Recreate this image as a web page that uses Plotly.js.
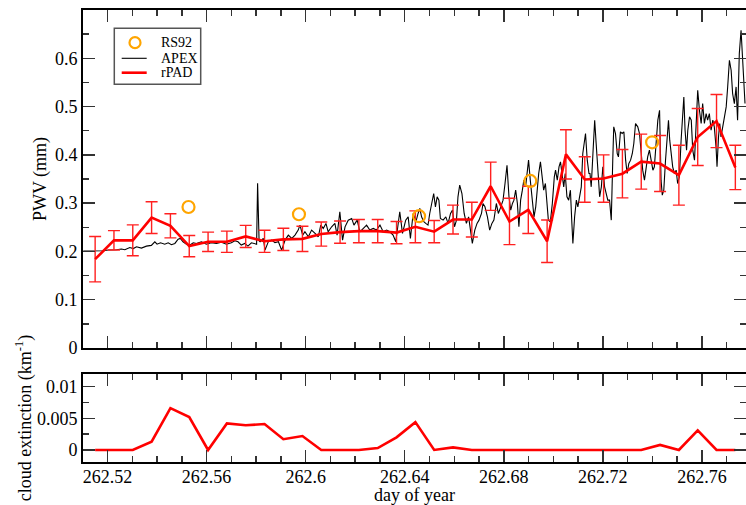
<!DOCTYPE html>
<html>
<head>
<meta charset="utf-8">
<script src="https://cdn.plot.ly/plotly-3.0.1.min.js"></script>
<style>html,body{margin:0;padding:0;background:#fff;}#chart{width:746px;height:505px;}</style>
</head>
<body>
<div id="chart"></div>
<script>
// rPAD retrievals (day of year, PWV mm, 1-sigma error)
const rpadDay = [262.5150,262.5226,262.5302,262.5378,262.5454,262.5530,262.5606,262.5682,262.5758,262.5834,
  262.5910,262.5987,262.6063,262.6139,262.6215,262.6291,262.6367,262.6443,262.6519,262.6595,
  262.6671,262.6747,262.6823,262.6899,262.6975,262.7051,262.7127,262.7203,262.7279,262.7355,
  262.7431,262.7507,262.7583,262.7659,262.7735];
const rpadPWV = [0.184,0.223,0.223,0.270,0.253,0.211,0.220,0.220,0.231,0.221,
  0.225,0.226,0.236,0.240,0.242,0.242,0.239,0.251,0.241,0.266,
  0.266,0.335,0.262,0.286,0.221,0.401,0.349,0.351,0.361,0.386,
  0.382,0.358,0.437,0.470,0.374];
const rpadErr = [0.047,0.020,0.032,0.033,0.025,0.022,0.020,0.022,0.023,0.023,
  0.023,0.026,0.025,0.023,0.024,0.024,0.023,0.033,0.023,0.030,
  0.036,0.050,0.048,0.049,0.044,0.051,0.047,0.049,0.050,0.057,
  0.058,0.062,0.059,0.055,0.046];
// cloud extinction (km^-1) at the rPAD times
const cloudExt = [0,0,0,0.0013,0.0066,0.0052,0,0.0042,0.0039,0.0041,
  0.0017,0.0022,0,0,0,0.0003,0.0020,0.0044,0,0.0004,
  0,0,0,0,0,0,0,0,0,0,
  0.0008,0,0.0031,0,0];
// RS92 radiosondes
const rs92Day = [262.5527,262.5973,262.6458,262.6907,262.7399];
const rs92PWV = [0.292,0.277,0.273,0.346,0.426];
// APEX radiometer
const apexDay = [262.5102,262.5130,262.5158,262.5183,262.5203,262.5223,262.5236,262.5256,262.5270,262.5290,
  262.5304,262.5317,262.5337,262.5357,262.5377,262.5391,262.5400,262.5414,262.5431,262.5445,
  262.5458,262.5472,262.5485,262.5494,262.5505,262.5519,262.5532,262.5546,262.5559,262.5579,
  262.5599,262.5619,262.5640,262.5660,262.5680,262.5700,262.5714,262.5727,262.5740,262.5754,
  262.5767,262.5781,
  262.5792,262.5802,262.5806,262.5812,262.5816,262.5829,262.5836,262.5849,262.5863,262.5876,
  262.5890,262.5903,262.5917,262.5930,262.5944,262.5957,262.5970,262.5977,262.5988,262.5997,
  262.6011,262.6024,262.6038,262.6051,262.6061,262.6071,262.6082,262.6091,262.6105,262.6118,
  262.6127,262.6138,262.6149,262.6159,262.6172,262.6186,262.6195,262.6208,262.6219,262.6232,
  262.6246,262.6259,262.6273,262.6286,262.6300,262.6313,262.6327,262.6340,262.6353,262.6364,
  262.6373,262.6380,262.6391,262.6404,262.6414,262.6423,262.6434,262.6445,262.6454,
  262.6461,262.6468,262.6477,262.6485,262.6494,262.6501,262.6512,262.6517,262.6524,262.6531,
  262.6538,262.6544,262.6555,262.6566,262.6575,262.6585,262.6593,262.6601,262.6609,262.6615,
  262.6622,262.6631,262.6640,262.6649,262.6658,262.6667,262.6673,262.6683,262.6692,262.6700,
  262.6710,262.6716,262.6724,262.6734,262.6743,262.6752,262.6760,262.6770,262.6778,262.6788,
  262.6797,262.6805,262.6813,262.6821,262.6828,262.6835,262.6841,262.6848,262.6855,262.6861,
  262.6868,262.6875,262.6881,262.6888,262.6894,262.6900,262.6907,262.6914,262.6922,262.6929,
  262.6934,262.6941,262.6948,262.6954,262.6961,262.6968,262.6973,262.6980,262.6988,262.6996,
  262.7004,262.7009,262.7016,262.7023,262.7029,262.7036,262.7042,262.7048,262.7055,262.7062,
  262.7069,262.7075,262.7079,262.7086,262.7093,262.7099,262.7106,262.7113,262.7119,262.7126,
  262.7130,262.7137,262.7144,
  262.7148,262.7153,262.7160,262.7167,262.7173,262.7180,262.7187,262.7194,262.7200,262.7207,
  262.7214,262.7220,262.7227,262.7234,262.7240,262.7244,262.7251,262.7258,262.7263,262.7271,
  262.7278,262.7285,262.7292,262.7298,262.7305,262.7312,262.7319,262.7325,262.7332,262.7341,
  262.7348,262.7355,262.7361,262.7368,262.7375,262.7381,262.7388,262.7395,262.7402,262.7408,
  262.7415,262.7422,262.7429,262.7435,262.7440,262.7446,262.7453,262.7460,262.7465,262.7470,
  262.7476,262.7482,262.7489,262.7496,262.7502,262.7509,262.7516,262.7523,262.7527,262.7532,
  262.7538,262.7543,262.7550,262.7557,262.7563,262.7570,262.7577,262.7583,262.7590,262.7597,
  262.7603,262.7610,262.7617,262.7623,262.7630,262.7637,262.7644,262.7650,262.7657,262.7661,
  262.7667,262.7672,262.7677,262.7684,262.7691,262.7698,262.7704,262.7711,262.7718,262.7724,
  262.7731,262.7738,262.7744,262.7751,262.7758,262.7762,262.7767,262.7774];
const apexPWV = [0.201,0.201,0.2015,0.2015,0.203,0.203,0.2035,0.205,0.2035,0.208,
  0.206,0.2097,0.207,0.211,0.2125,0.220,0.215,0.218,0.215,0.218,
  0.214,0.2166,0.2255,0.227,0.220,0.215,0.213,0.218,0.2166,0.220,
  0.215,0.218,0.2166,0.219,0.215,0.218,0.222,0.220,0.2131,0.2166,
  0.211,0.218,
  0.2166,0.215,0.341,0.222,0.220,0.2269,0.2028,0.220,0.2235,0.218,
  0.220,0.2028,0.2235,0.2338,0.2269,0.2338,0.2442,0.2545,0.2338,0.2407,
  0.2304,0.2442,0.2373,0.2304,0.2545,0.2476,0.2580,0.2407,0.2510,0.2580,
  0.2338,0.2821,0.2235,0.2510,0.2648,0.2683,0.2545,0.2648,0.2407,0.2476,
  0.2545,0.2442,0.2476,0.2442,0.2545,0.2407,0.2442,0.2407,0.2338,0.2200,
  0.2510,0.2821,0.2373,0.2648,0.2717,0.2269,0.2786,0.2614,0.2786,
  0.289,0.2717,0.2614,0.2580,0.2545,0.2786,0.3131,0.3200,0.2924,0.3131,
  0.3062,0.2683,0.2648,0.2717,0.2580,0.2786,0.2855,0.2510,0.2648,0.3131,
  0.3373,0.3200,0.2786,0.2580,0.2717,0.2373,0.2166,0.2442,0.2580,0.2648,
  0.2786,0.2993,0.2924,0.2717,0.2442,0.2580,0.2648,0.2993,0.2786,0.2924,
  0.3062,0.3407,0.3786,0.3131,0.2855,0.2993,0.3062,0.3269,0.2993,0.2510,
  0.3062,0.3269,0.3476,0.3338,0.3683,0.3890,0.3476,0.3131,0.2717,0.2924,
  0.3269,0.3614,0.3855,0.3545,0.3269,0.3407,0.3062,0.2648,0.2614,0.2993,
  0.3545,0.3683,0.3476,0.3752,0.3855,0.3545,0.3338,0.3614,0.3131,0.3062,
  0.3269,0.2580,0.2166,0.2717,0.3062,0.2924,0.3131,0.3338,0.4028,0.4373,
  0.4442,0.3890,0.3614,
  0.3614,0.3338,0.4028,0.4718,0.4235,0.3683,0.3131,0.3338,0.3752,0.3338,
  0.3200,0.3062,0.3062,0.2648,0.3890,0.4580,0.4442,0.4028,0.3959,0.4476,
  0.4442,0.4476,0.3890,0.3614,0.3821,0.3890,0.4028,0.4235,0.4649,0.4580,
  0.4442,0.4028,0.3683,0.3476,0.3752,0.3959,0.4097,0.3890,0.3683,0.3752,
  0.4166,0.4718,0.4924,0.3476,0.3166,0.3269,0.3890,0.4511,0.4718,0.4304,
  0.3959,0.3752,0.3614,0.3683,0.3407,0.3545,0.4304,0.4924,0.5200,0.4511,
  0.4097,0.4511,0.4787,0.4718,0.4097,0.3890,0.4718,0.5338,0.4924,0.4649,
  0.5062,0.4649,0.4856,0.4718,0.4856,0.4511,0.4718,0.4580,0.4166,0.3752,
  0.4373,0.4649,0.4373,0.4580,0.4856,0.4993,0.5407,0.5959,0.5752,0.5269,
  0.5062,0.5407,0.4718,0.6097,0.6580,0.6166,0.5545,0.5062];
// tick labels
const xTicks = [262.52,262.56,262.60,262.64,262.68,262.72,262.76];
const xTickText = ['262.52','262.56','262.6','262.64','262.68','262.72','262.76'];
const pwvTicks = [0,0.1,0.2,0.3,0.4,0.5,0.6];
const pwvTickText = ['0','0.1','0.2','0.3','0.4','0.5','0.6'];
const extTicks = [0,0.005,0.01];
const extTickText = ['0','0.005','0.01'];
// legend entries
const legendNames = ['RS92', 'APEX', 'rPAD'];

const FONT = 'Liberation Serif, Times New Roman, serif';

const traces = [
  {x: apexDay, y: apexPWV, type: 'scatter', mode: 'lines', name: 'APEX', showlegend: false,
   xaxis: 'x2', yaxis: 'y2', line: {color: 'black', width: 1.1}},
  {x: rpadDay, y: rpadPWV, type: 'scatter', mode: 'lines', name: 'rPAD', showlegend: false,
   xaxis: 'x2', yaxis: 'y2', line: {color: '#ff0000', width: 2.6},
   error_y: {type: 'data', array: rpadErr, visible: true, color: '#ff2020', thickness: 1.4, width: 6}},
  {x: rs92Day, y: rs92PWV, type: 'scatter', mode: 'markers', name: 'RS92', showlegend: false,
   xaxis: 'x2', yaxis: 'y2',
   marker: {symbol: 'circle-open', size: 12, color: '#ffa500', line: {color: '#ffa500', width: 2.2}}},
  {x: rpadDay, y: cloudExt, type: 'scatter', mode: 'lines', name: 'cloud extinction',
   xaxis: 'x', yaxis: 'y', showlegend: false, line: {color: '#ff0000', width: 2.6}}
];

const axCommon = {
  showline: true, linecolor: 'black', linewidth: 2, mirror: 'allticks',
  ticks: 'inside', ticklen: 12, tickwidth: 1.5, tickcolor: '#333',
  showgrid: false, zeroline: false,
  tickfont: {family: FONT, size: 18, color: 'black'}
};

// legend box drawn in paper coordinates (plot area 83..746 x 10..462 px)
const px = v => (v - 83) / 663;
const py = v => (462 - v) / 452;
const legendShapes = [
  {type: 'rect', xref: 'paper', yref: 'paper', x0: px(114.3), x1: px(200.7), y0: py(84.3), y1: py(28.3),
   line: {color: '#555', width: 1.5}, fillcolor: 'white', layer: 'above'},
  {type: 'circle', xref: 'paper', yref: 'paper', x0: px(129.5), x1: px(140.5), y0: py(48.2), y1: py(37.2),
   line: {color: '#ffa500', width: 2.2}, layer: 'above'},
  {type: 'line', xref: 'paper', yref: 'paper', x0: px(121.7), x1: px(146.7), y0: py(58.3), y1: py(58.3),
   line: {color: 'black', width: 1.1}, layer: 'above'},
  {type: 'line', xref: 'paper', yref: 'paper', x0: px(121.7), x1: px(146.7), y0: py(72.7), y1: py(72.7),
   line: {color: '#ff0000', width: 2.6}, layer: 'above'}
];
const legendY = [42.7, 58.3, 72.7];
const legendAnn = legendNames.map((t, i) => ({
  text: t, xref: 'paper', yref: 'paper', x: px(159), y: py(legendY[i]),
  xanchor: 'left', yanchor: 'middle', showarrow: false,
  font: {family: FONT, size: 14, color: 'black'}
}));

const layout = {
  width: 746, height: 505,
  margin: {l: 83, r: 0, t: 10, b: 43},
  paper_bgcolor: 'white', plot_bgcolor: 'white',
  font: {family: FONT, color: 'black'},
  showlegend: false,
  shapes: legendShapes,
  annotations: legendAnn,
  xaxis: Object.assign({}, axCommon, {
    domain: [0, 1], anchor: 'y', range: [262.5101, 262.7778],
    tickmode: 'array', tickvals: xTicks, ticktext: xTickText, ticklabelstandoff: -3,
    minor: {dtick: 0.01, tick0: 262.52, ticklen: 6, tickwidth: 1.5, tickcolor: '#333', ticks: 'inside'},
    title: {text: 'day of year', font: {family: FONT, size: 18}, standoff: 0}
  }),
  yaxis: Object.assign({}, axCommon, {
    domain: [0, 0.1947], anchor: 'x', range: [-0.0019, 0.012],
    tickmode: 'array', tickvals: extTicks, ticktext: extTickText,
    minor: {dtick: 0.0025, tick0: 0, ticklen: 6, tickwidth: 1.5, tickcolor: '#333', ticks: 'inside'},
    title: {text: 'cloud extinction (km<sup>-1</sup>)', font: {family: FONT, size: 18}, standoff: 1}
  }),
  xaxis2: Object.assign({}, axCommon, {
    domain: [0, 1], anchor: 'y2', matches: 'x', range: [262.5101, 262.7778],
    tickmode: 'array', tickvals: xTicks, ticktext: xTickText, showticklabels: false,
    minor: {dtick: 0.01, tick0: 262.52, ticklen: 6, tickwidth: 1.5, tickcolor: '#333', ticks: 'inside'}
  }),
  yaxis2: Object.assign({}, axCommon, {
    domain: [0.2522, 1], anchor: 'x2', range: [0, 0.7],
    tickmode: 'array', tickvals: pwvTicks, ticktext: pwvTickText,
    minor: {dtick: 0.05, tick0: 0, ticklen: 6, tickwidth: 1.5, tickcolor: '#333', ticks: 'inside'},
    title: {text: 'PWV (mm)', font: {family: FONT, size: 18}, standoff: 4}
  })
};

Plotly.newPlot('chart', traces, layout, {displayModeBar: false, staticPlot: true});
</script>
</body>
</html>
